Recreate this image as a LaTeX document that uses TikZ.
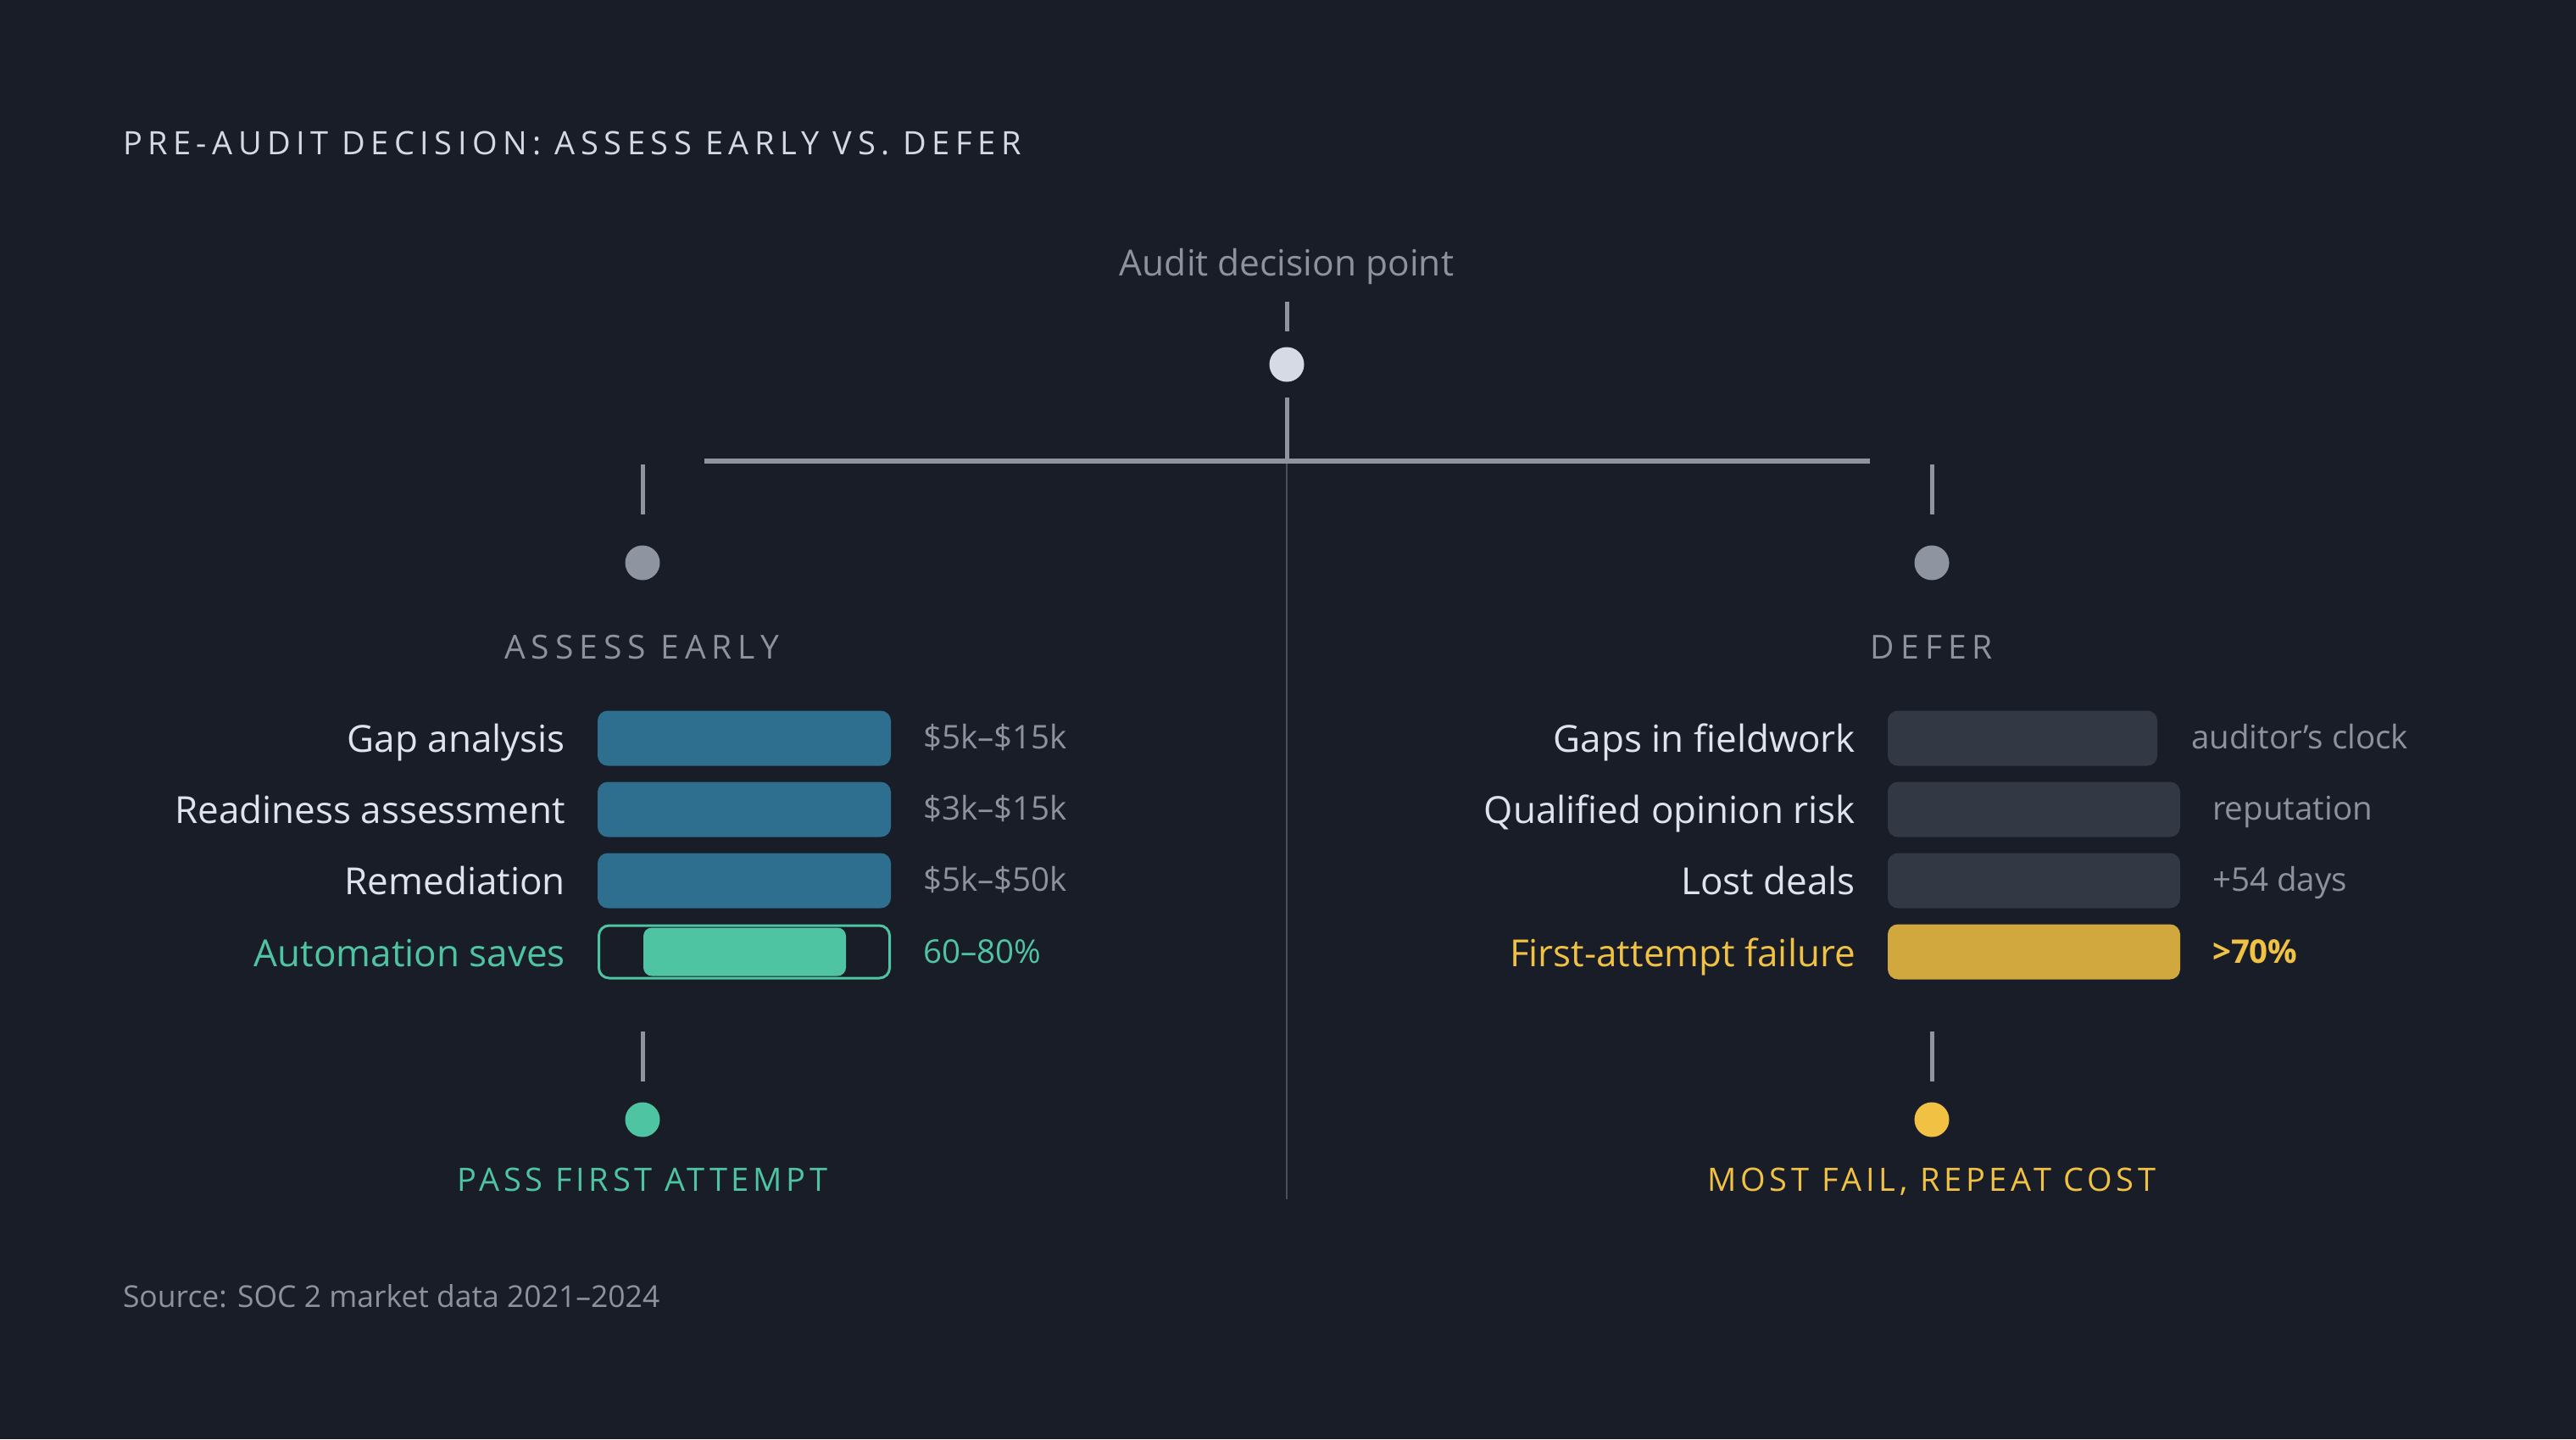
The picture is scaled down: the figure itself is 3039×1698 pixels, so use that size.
\documentclass[tikz,border=0pt]{standalone}
\usepackage{fontspec}
\setmainfont{Open Sans}
\newfontfamily\titlefont[LetterSpace=17]{Open Sans}
\newfontfamily\headfont[LetterSpace=18]{Open Sans}
\newfontfamily\endfont[LetterSpace=12.5]{Open Sans}
\definecolor{bgc}{HTML}{181D27}
\definecolor{titlec}{HTML}{D4D9E3}
\definecolor{grayt}{HTML}{8C929E}
\definecolor{labelc}{HTML}{DFE3EC}
\definecolor{linec}{HTML}{8E94A0}
\definecolor{thinc}{HTML}{4A505B}
\definecolor{dotw}{HTML}{D5DAE5}
\definecolor{bluebar}{HTML}{2E6E8F}
\definecolor{darkbar}{HTML}{333845}
\definecolor{tealc}{HTML}{4FC4A2}
\definecolor{yellowc}{HTML}{F0C143}
\definecolor{yellowbar}{HTML}{D0A83E}
\tikzset{
  every node/.style={inner sep=0pt, outer sep=0pt},
  tick/.style={draw=linec, line width=5pt},
  dot/.style={circle, minimum size=41pt},
  bar/.style={rectangle, rounded corners=12pt, minimum height=65pt, anchor=west},
  lab/.style={anchor=base east, text=labelc, font=\fontsize{44}{52}\selectfont},
  val/.style={anchor=base west, text=grayt, font=\fontsize{38.5}{46}\selectfont},
  head/.style={anchor=base, font=\fontsize{39}{46}\headfont},
  outcome/.style={anchor=base, font=\fontsize{38}{46}\endfont},
}
\begin{document}
\begin{tikzpicture}[x=1pt,y=-1pt]
\fill[bgc] (0,0) rectangle (3039,1698);
\useasboundingbox (0,0) rectangle (3039,1698);

% title
\node[anchor=base west, text=titlec, font=\fontsize{38}{46}\titlefont] (title) at (145,182) {PRE-AUDIT DECISION: ASSESS EARLY VS. DEFER};

% decision point
\node[anchor=base, text=grayt, font=\fontsize{42.5}{50}\selectfont] (audit) at (1518,325) {Audit decision point};
\coordinate (t1a) at (1518,356);
\coordinate (t1b) at (1518,391);
\draw[tick] (t1a) -- (t1b);
\node[dot, fill=dotw] (top) at (1518,430) {};
\coordinate (t2a) at (1518,469);
\coordinate (hc) at (1518,544);
\coordinate (hl) at (831,544);
\coordinate (hr) at (2206,544);
\coordinate (vb) at (1518,1415);
\draw[draw=thinc, line width=2pt] (hc) -- (vb);
\draw[tick] (t2a) -- (hc);
\draw[draw=linec, line width=6pt] (hl) -- (hr);

% branch ticks and dots
\coordinate (lta) at (758,548);
\coordinate (ltb) at (758,607);
\draw[tick] (lta) -- (ltb);
\node[dot, fill=linec] (ldot) at (758,664) {};
\coordinate (rta) at (2279,548);
\coordinate (rtb) at (2279,607);
\draw[tick] (rta) -- (rtb);
\node[dot, fill=linec] (rdot) at (2279,664) {};

\node[head, text=grayt] (assess) at (757,777) {ASSESS EARLY};
\node[head, text=grayt] (defer) at (2279,777) {DEFER};

% left rows
\node[lab] (l1) at (667,887) {Gap analysis};
\node[lab] (l2) at (667,971) {Readiness assessment};
\node[lab] (l3) at (667,1055) {Remediation};
\node[lab, text=tealc] (l4) at (667,1140) {Automation saves};
\node[bar, fill=bluebar, minimum width=346pt] (lb1) at (705,871) {};
\node[bar, fill=bluebar, minimum width=346pt] (lb2) at (705,955) {};
\node[bar, fill=bluebar, minimum width=346pt] (lb3) at (705,1039) {};
\node[bar, draw=tealc, line width=3pt, minimum width=343pt, minimum height=62pt] (lb4) at (706.5,1123) {};
\node[bar, fill=tealc, rounded corners=10pt, minimum width=239pt, minimum height=57pt] (lb4in) at (759,1123) {};
\node[val] (v1) at (1089,883) {\$5k–\$15k};
\node[val] (v2) at (1089,967) {\$3k–\$15k};
\node[val] (v3) at (1089,1051) {\$5k–\$50k};
\node[val, text=tealc] (v4) at (1089,1136) {60–80\%};

% right rows
\node[lab] (r1) at (2189,887) {Gaps in fieldwork};
\node[lab] (r2) at (2189,971) {Qualified opinion risk};
\node[lab] (r3) at (2189,1055) {Lost deals};
\node[lab, text=yellowc] (r4) at (2189,1140) {First-attempt failure};
\node[bar, fill=darkbar, minimum width=318pt] (rb1) at (2227,871) {};
\node[bar, fill=darkbar, minimum width=345pt] (rb2) at (2227,955) {};
\node[bar, fill=darkbar, minimum width=345pt] (rb3) at (2227,1039) {};
\node[bar, fill=yellowbar, minimum width=345pt] (rb4) at (2227,1123) {};
\node[val] (w1) at (2585,883) {auditor’s clock};
\node[val] (w2) at (2610,967) {reputation};
\node[val] (w3) at (2610,1051) {+54 days};
\node[val, text=yellowc, font=\fontsize{38.5}{46}\bfseries] (w4) at (2610,1136) {>70\%};

% outcomes
\coordinate (lba) at (758,1217);
\coordinate (lbb) at (758,1276);
\draw[tick] (lba) -- (lbb);
\node[dot, fill=tealc] (lend) at (758,1321) {};
\node[outcome, text=tealc] (pass) at (758,1405) {PASS FIRST ATTEMPT};
\coordinate (rba) at (2279,1217);
\coordinate (rbb) at (2279,1276);
\draw[tick] (rba) -- (rbb);
\node[dot, fill=yellowc] (rend) at (2279,1321) {};
\node[outcome, text=yellowc] (fail) at (2279,1405) {MOST FAIL, REPEAT COST};

% source
\node[anchor=base west, text=grayt, font=\fontsize{35.5}{42}\selectfont] (src) at (145,1542) {Source: SOC 2 market data 2021–2024};
\end{tikzpicture}
\end{document}
